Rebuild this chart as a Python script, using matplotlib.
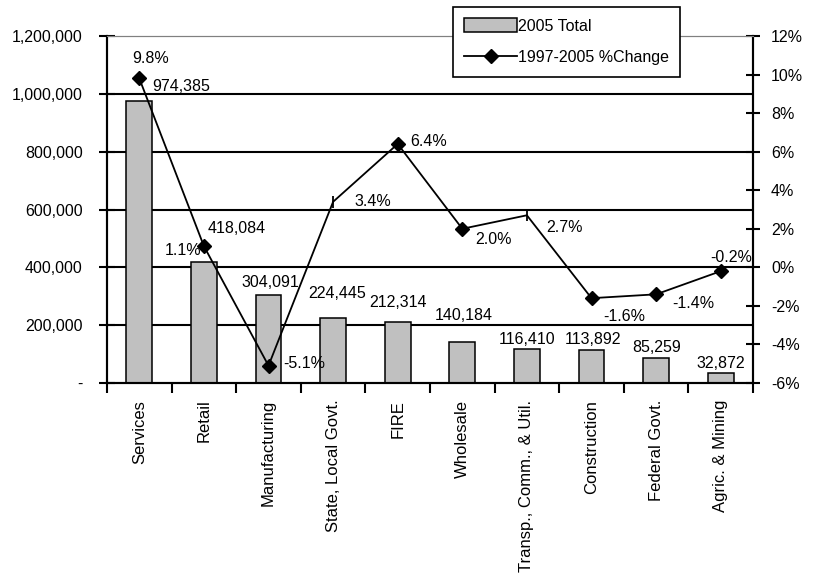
import numpy as np
import matplotlib
matplotlib.use('Agg')
import matplotlib.pyplot as plt
from matplotlib.ticker import FuncFormatter

plt.rcParams['font.family'] = ['Liberation Sans', 'DejaVu Sans']

# data
sectors = ['Services', 'Retail', 'Manufacturing', 'State, Local Govt.', 'FIRE',
           'Wholesale', 'Transp., Comm., & Util.', 'Construction', 'Federal Govt.',
           'Agric. & Mining']
total_2005 = [974385, 418084, 304091, 224445, 212314, 140184, 116410, 113892, 85259, 32872]
pct_change = [9.8, 1.1, -5.1, 3.4, 6.4, 2.0, 2.7, -1.6, -1.4, -0.2]

# label offsets in pixels (dx, dy) - hand placed like the original
bar_lbl_off = [(42, 15), (33, 34), (2, 13), (4, 25), (0, 19), (1, 27), (0, 10), (1, 11), (1, 11), (0, 10)]
pct_lbl_off = [(11, 20), (-21, -4), (36, 2), (40, 0), (31, 2), (31, -11), (38, -12), (33, -18), (37, -9), (10, 14)]

FS = 11.5

fig = plt.figure(figsize=(8.19, 5.79), dpi=100)
ax = fig.add_axes([107/819, 1-383/579, (753-107)/819, (383-36)/579])
ax2 = ax.twinx()

x = np.arange(len(sectors))
ax.bar(x, total_2005, width=0.4, color='#C0C0C0', edgecolor='black', linewidth=1.1,
       label='2005 Total', zorder=2)
ax.set_xlim(-0.5, len(sectors) - 0.5)
ax.set_ylim(0, 1200000)
ax.set_yticks(np.arange(0, 1200001, 200000))
ax.yaxis.set_major_formatter(FuncFormatter(lambda v, p: '-' if v == 0 else f'{int(v):,}'))
for v in range(200000, 1200000, 200000):
    ax.axhline(v, color='black', lw=1.5, zorder=1)

ax.set_xticks(x)
ax.set_xticklabels(sectors, rotation=90, fontsize=12)
ax.set_xticks(np.arange(-0.5, len(sectors)), minor=True)
ax.tick_params(axis='x', which='major', length=0, pad=12)
ax.tick_params(axis='x', which='minor', length=7, width=1.5, direction='out')
ax.tick_params(axis='y', length=11, width=1.5, direction='inout', labelsize=FS, pad=12)

for sp in ['left', 'bottom', 'right']:
    ax.spines[sp].set_linewidth(1.5)
    ax2.spines[sp].set_linewidth(1.5)
ax.spines['top'].set_color('#808080')
ax.spines['top'].set_linewidth(0.8)
ax2.spines['top'].set_color('#808080')
ax2.spines['top'].set_linewidth(0.8)

ax2.set_ylim(-6, 12)
ax2.set_yticks(np.arange(-6, 13, 2))
ax2.yaxis.set_major_formatter(FuncFormatter(lambda v, p: f'{int(v)}%'))
ax2.tick_params(axis='y', length=10, width=1.5, direction='inout', labelsize=FS, pad=8)

mk = [i for i in range(len(x)) if i not in (3, 6)]
ax2.plot(x, pct_change, color='black', lw=1.3, marker='D', markersize=7.5,
         markevery=mk, label='1997-2005 %Change', zorder=4)
ax2.plot(x[[3, 6]], np.array(pct_change)[[3, 6]], ls='none', marker='|', color='black',
         markersize=9, markeredgewidth=1.3, zorder=4)

for i, v in enumerate(total_2005):
    ax.annotate(f'{v:,}', (x[i], v), xytext=bar_lbl_off[i], textcoords='offset pixels',
                ha='center', va='center', fontsize=FS, zorder=5)
for i, v in enumerate(pct_change):
    ax2.annotate(f'{v:.1f}%', (x[i], v), xytext=pct_lbl_off[i], textcoords='offset pixels',
                 ha='center', va='center', fontsize=FS, zorder=5)

h1, l1 = ax.get_legend_handles_labels()
h2, l2 = ax2.get_legend_handles_labels()
leg = ax2.legend(h1 + h2, l1 + l2, loc='upper left', bbox_to_anchor=(453/819, 1-7/579),
                 bbox_transform=fig.transFigure, fontsize=FS, frameon=True, fancybox=False,
                 edgecolor='black', framealpha=1, handlelength=3.3, handleheight=1.0,
                 handletextpad=0.05, borderpad=0.7, labelspacing=1.0, borderaxespad=0)
leg.get_frame().set_linewidth(1.2)

fig.savefig('out.png', dpi=100)
